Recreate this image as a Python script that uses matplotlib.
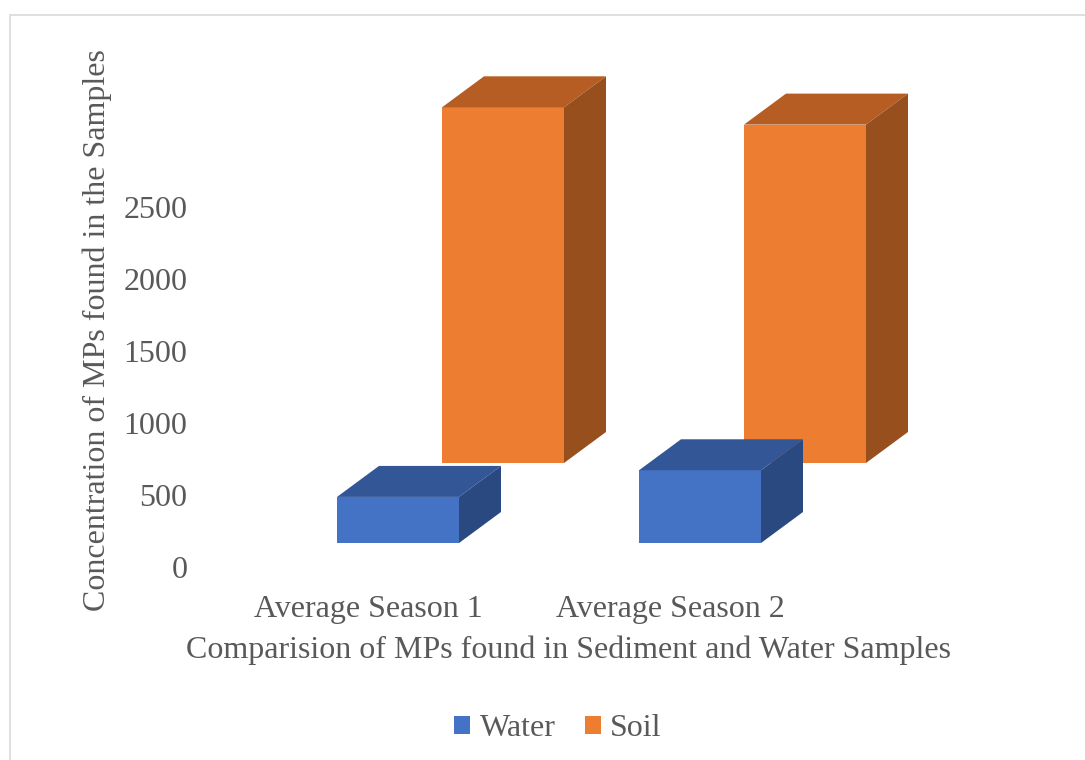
import matplotlib
matplotlib.use("Agg")
import matplotlib.pyplot as plt
from matplotlib.patches import Polygon, Patch, Rectangle

# Data
categories = ["Average Season 1", "Average Season 2"]
water = [320, 505]
soil = [2470, 2350]
y_ticks = [0, 500, 1000, 1500, 2000, 2500]

# Pseudo-3D geometry (data units)
W, H = 1085, 760
ax_left_px, ax_right_px = 200, 1000
ax_bottom_px, ax_top_px = 567, 40
px_per_cat = 302.0
px_per_val = 72.0 / 500.0
cat0_px = 368.0

x_min = (ax_left_px - cat0_px) / px_per_cat
x_max = (ax_right_px - cat0_px) / px_per_cat
y_max = (ax_bottom_px - ax_top_px) / px_per_val

bar_w = 122 / px_per_cat
depth = (42 / px_per_cat, 31 / px_per_val)
rows = {
    # name: (x offset from category, base level, colours front/top/side)
    "Soil": (74 / px_per_cat, 80 / px_per_val + 24 / px_per_val,
             ("#ED7D31", "#B55D22", "#984F1E")),
    "Water": (-31 / px_per_cat, 24 / px_per_val,
              ("#4472C4", "#335696", "#2A4980")),
}

fig = plt.figure(figsize=(W / 100, H / 100), dpi=100)
fig.patch.set_facecolor("white")
fig.patches.append(Rectangle((10 / W, -0.02), 1.1, 1 - 15 / H + 0.02,
                             transform=fig.transFigure, fill=False,
                             edgecolor="#D9D9D9", linewidth=1.2))

ax = fig.add_axes([ax_left_px / W, 1 - ax_bottom_px / H,
                   (ax_right_px - ax_left_px) / W,
                   (ax_bottom_px - ax_top_px) / H])
ax.set_xlim(x_min, x_max)
ax.set_ylim(0, y_max)
ax.patch.set_alpha(0)
for s in ax.spines.values():
    s.set_visible(False)

dx, dy = depth


def draw_box(x0, base, value, colours, z):
    front, top, side = colours
    x1 = x0 + bar_w
    y1 = base + value
    ax.add_patch(Polygon([(x0, base), (x1, base), (x1, y1), (x0, y1)],
                         closed=True, facecolor=front, edgecolor="none", zorder=z))
    ax.add_patch(Polygon([(x0, y1), (x1, y1), (x1 + dx, y1 + dy), (x0 + dx, y1 + dy)],
                         closed=True, facecolor=top, edgecolor="none", zorder=z))
    ax.add_patch(Polygon([(x1, base), (x1 + dx, base + dy), (x1 + dx, y1 + dy), (x1, y1)],
                         closed=True, facecolor=side, edgecolor="none", zorder=z))


for z, (name, values) in enumerate([("Soil", soil), ("Water", water)]):
    off, base, colours = rows[name]
    for i, v in enumerate(values):
        draw_box(i + off, base, v, colours, z + 1)

font = "Liberation Serif"
grey = "#595959"
fs = 23
ax.set_yticks(y_ticks)
ax.set_yticklabels([str(t) for t in y_ticks], fontfamily=font, fontsize=fs, color=grey)
ax.set_xticks(range(len(categories)))
ax.set_xticklabels(categories, fontfamily=font, fontsize=fs, color=grey)
ax.tick_params(axis="both", length=0)
ax.tick_params(axis="y", pad=9)
ax.tick_params(axis="x", pad=20)

ax.set_xlabel("Comparision of MPs found in Sediment and Water Samples",
              fontfamily=font, fontsize=fs, color=grey)
ax.xaxis.set_label_coords((569 - ax_left_px) / (ax_right_px - ax_left_px),
                          -(650 - ax_bottom_px) / (ax_bottom_px - ax_top_px))
ax.xaxis.label.set_va("center")
ax.set_ylabel("Concentration of MPs found in the Samples",
              fontfamily=font, fontsize=fs, color=grey)
ax.yaxis.set_label_coords(-(ax_left_px - 97) / (ax_right_px - ax_left_px),
                          (ax_bottom_px - 330) / (ax_bottom_px - ax_top_px))
ax.yaxis.label.set_va("center")

handles = [Patch(facecolor=rows["Water"][2][0], label="Water"),
           Patch(facecolor=rows["Soil"][2][0], label="Soil")]
fig.legend(handles=handles, loc="center", bbox_to_anchor=(558 / W, 1 - 729 / H),
           ncol=2, frameon=False, prop={"family": font, "size": 23},
           labelcolor=grey, handlelength=0.5, handleheight=0.5,
           handletextpad=0.3, columnspacing=0.9)

fig.savefig("out.png", dpi=100)
